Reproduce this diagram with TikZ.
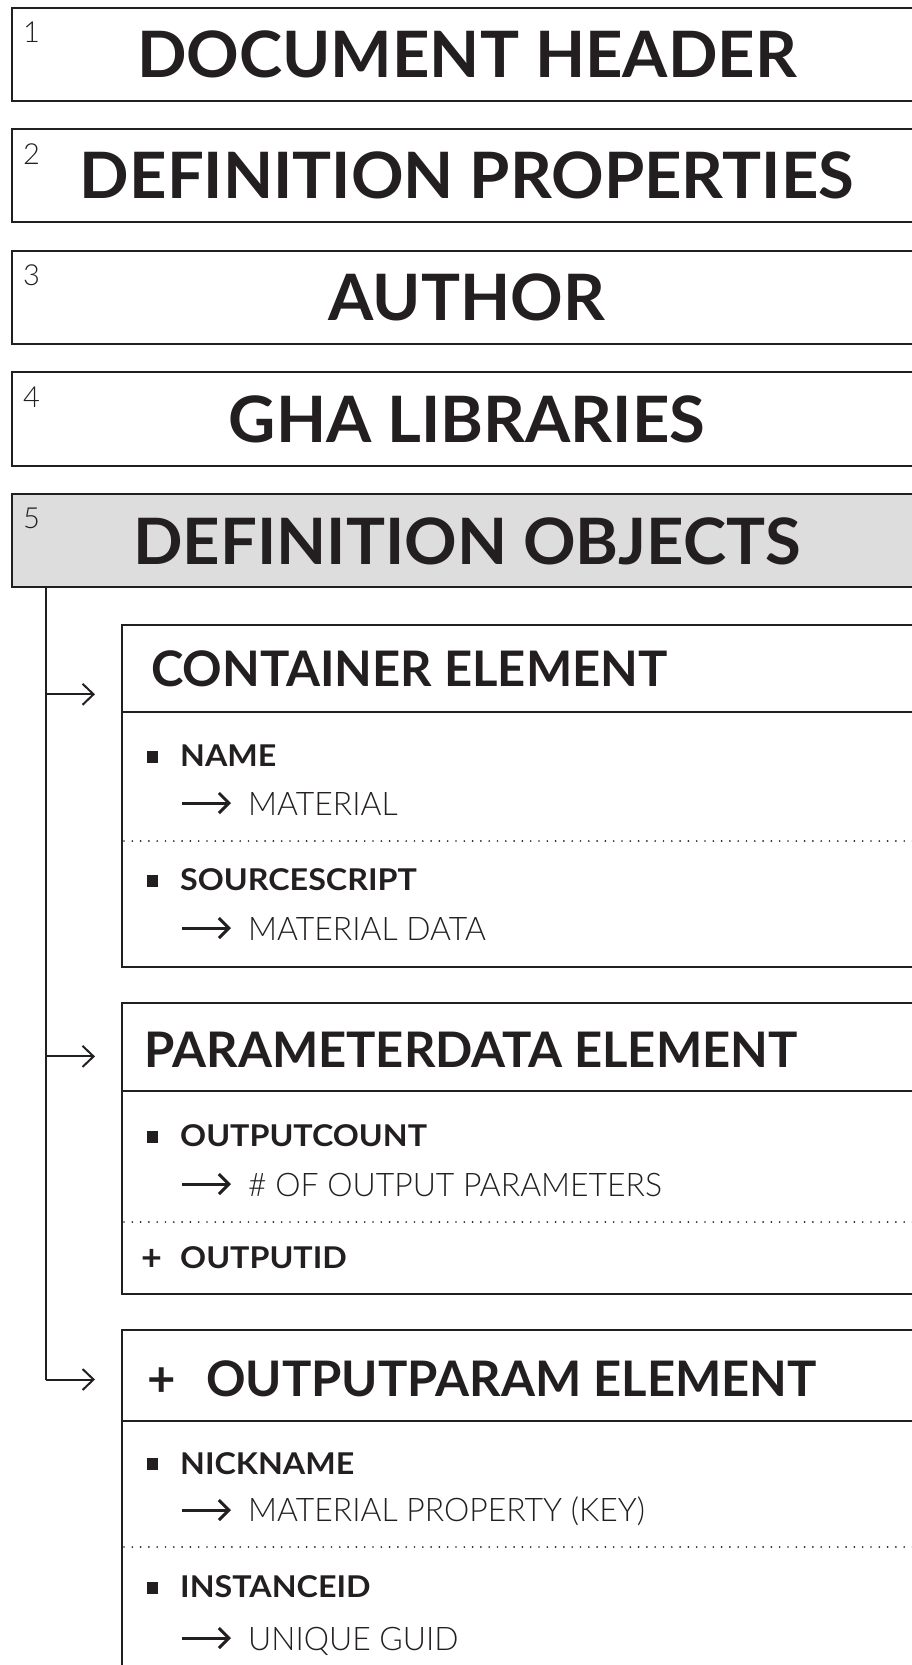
\documentclass[tikz,border=0pt]{standalone}
\usepackage{fontspec}
\setmainfont{Lato}
\newfontfamily\boldf{Lato Bold}
\newfontfamily\bigf{Lato Bold}[FakeStretch=1.018]
\newfontfamily\itemf{Lato Bold}[FakeStretch=1.075]
\newfontfamily\lightf{Lato Light}
\newfontfamily\lightn{Lato Light}[FakeStretch=0.982]
\usetikzlibrary{arrows.meta}
\definecolor{ink}{RGB}{35,31,32}
\definecolor{hdrgray}{RGB}{221,221,221}
\begin{document}
\begin{tikzpicture}[x=1pt,y=-1pt,
  frame/.style={draw=ink, line width=2pt, rectangle, inner sep=0pt, outer sep=0pt, anchor=north west},
  bigtitle/.style={anchor=base, font=\bigf\fontsize{64}{64}\selectfont, text=ink, inner sep=0pt},
  numlbl/.style={anchor=base west, font=\lightf\fontsize{29}{29}\selectfont, text=ink, inner sep=0pt},
  elemtitle/.style={anchor=base west, font=\boldf\fontsize{49}{49}\selectfont, text=ink, inner sep=0pt},
  itemb/.style={anchor=base west, font=\itemf\fontsize{30}{30}\selectfont, text=ink, inner sep=0pt},
  plusb/.style={anchor=base west, font=\boldf\fontsize{36}{36}\selectfont, text=ink, inner sep=0pt},
  iteml/.style={anchor=base west, font=\lightn\fontsize{32.5}{32.5}\selectfont, text=ink, inner sep=0pt},
  bullet/.style={fill=ink, draw=none, minimum width=11.6pt, minimum height=11.6pt, inner sep=0pt, anchor=center},
  sepline/.style={draw=ink, line width=2pt},
  dots/.style={draw=ink, line width=1.9pt, dash pattern=on 0pt off 8.3pt, line cap=round},
  trunkline/.style={draw=ink, line width=2pt},
  conn/.style={draw=ink, line width=2pt, -{Straight Barb[length=11pt,width=21pt]}},
  itemarrow/.style={draw=ink, line width=3pt, -{Straight Barb[length=10pt,width=20pt]}}
]
\clip (0,0) rectangle (912,1665);
\fill[white] (0,0) rectangle (912,1665);

% top-level boxes
\node[frame, minimum width=912pt, minimum height=93.3pt] (b1) at (12,7.5) {};
\node[frame, minimum width=912pt, minimum height=93.3pt] (b2) at (12,129.1) {};
\node[frame, minimum width=912pt, minimum height=93.3pt] (b3) at (12,250.7) {};
\node[frame, minimum width=912pt, minimum height=93.3pt] (b4) at (12,372.3) {};
\node[frame, fill=hdrgray, minimum width=912pt, minimum height=93.3pt] (b5) at (12,493.9) {};

\node[numlbl] (n1) at (23,42.5) {1};
\node[numlbl] (n2) at (23,164.1) {2};
\node[numlbl] (n3) at (23,285.7) {3};
\node[numlbl] (n4) at (23,407.3) {4};
\node[numlbl] (n5) at (23,528.9) {5};

\node[bigtitle] (t1) at (467,77.2) {DOCUMENT HEADER};
\node[bigtitle] (t2) at (467,198.8) {DEFINITION PROPERTIES};
\node[bigtitle] (t3) at (467,320.4) {AUTHOR};
\node[bigtitle] (t4) at (467,442) {GHA LIBRARIES};
\node[bigtitle] (t5) at (467,564.5) {DEFINITION OBJECTS};

% element boxes
\node[frame, minimum width=810pt, minimum height=342pt] (ea) at (122,625) {};
\node[frame, minimum width=810pt, minimum height=291pt] (eb) at (122,1003.3) {};
\node[frame, minimum width=810pt, minimum height=400pt] (ec) at (122,1330.3) {};

\draw[sepline] (ea.north west) ++(0,87) -- ++(810,0);
\draw[dots] (ea.north west) ++(2,216) -- ++(808,0);
\draw[sepline] (eb.north west) ++(0,88.1) -- ++(810,0);
\draw[dots] (eb.north west) ++(2,218.7) -- ++(808,0);
\draw[sepline] (ec.north west) ++(0,90.3) -- ++(810,0);
\draw[dots] (ec.north west) ++(2,216.7) -- ++(808,0);

% connectors
\coordinate (trunk) at (45.5,587.2);
\coordinate (ta) at (45.5,694.3);
\coordinate (tb) at (45.5,1056.4);
\coordinate (tc) at (45.5,1379.5);
\coordinate (ha) at (95,694.3);
\coordinate (hb) at (95,1056.4);
\coordinate (hc) at (95,1379.5);
\draw[trunkline] (trunk) -- (tc);
\draw[conn] (ta) -- (ha);
\draw[conn] (tb) -- (hb);
\draw[conn] (tc) -- (hc);

% container element
\node[elemtitle] (ta1) at (151,686.7) {CONTAINER ELEMENT};
\node[bullet] (ba1) at (152.5,757) {};
\node[itemb] (ia1) at (180,766.7) {NAME};
\coordinate (aa1s) at (182,803);
\coordinate (aa1e) at (231,803);
\draw[itemarrow] (aa1s) -- (aa1e);
\node[iteml] (la1) at (248,815) {MATERIAL};
\node[bullet] (ba2) at (152.5,881) {};
\node[itemb] (ia2) at (180,890.7) {SOURCESCRIPT};
\coordinate (aa2s) at (182,928);
\coordinate (aa2e) at (231,928);
\draw[itemarrow] (aa2s) -- (aa2e);
\node[iteml] (la2) at (248,940) {MATERIAL DATA};

% parameterdata element
\node[elemtitle] (tb1) at (144.4,1067.5) {PARAMETERDATA ELEMENT};
\node[bullet] (bb1) at (152.5,1137) {};
\node[itemb] (ib1) at (180,1146.7) {OUTPUTCOUNT};
\coordinate (ab1s) at (182,1184);
\coordinate (ab1e) at (231,1184);
\draw[itemarrow] (ab1s) -- (ab1e);
\node[iteml] (lb1) at (248,1196) {\# OF OUTPUT PARAMETERS};
\node[plusb] (pb2) at (141.5,1270.5) {+};
\node[itemb] (ib2) at (180,1268.5) {OUTPUTID};

% outputparam element
\node[elemtitle] (tc0) at (147.5,1396) {+};
\node[elemtitle] (tc1) at (206,1396) {OUTPUTPARAM ELEMENT};
\node[bullet] (bc1) at (152.5,1464) {};
\node[itemb] (ic1) at (180,1474) {NICKNAME};
\coordinate (ac1s) at (182,1510);
\coordinate (ac1e) at (231,1510);
\draw[itemarrow] (ac1s) -- (ac1e);
\node[iteml] (lc1) at (248,1521.7) {MATERIAL PROPERTY (KEY)};
\node[bullet] (bc2) at (152.5,1588) {};
\node[itemb] (ic2) at (180,1597.7) {INSTANCEID};
\coordinate (ac2s) at (182,1638);
\coordinate (ac2e) at (231,1638);
\draw[itemarrow] (ac2s) -- (ac2e);
\node[iteml] (lc2) at (248,1650) {UNIQUE GUID};
\end{tikzpicture}
\end{document}
